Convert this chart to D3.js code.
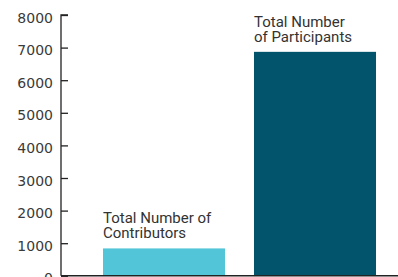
<!DOCTYPE html>
<html><head><meta charset="utf-8">
<script src="https://cdn.jsdelivr.net/npm/d3@7"></script>
<style>html,body{margin:0;padding:0;background:#fff;overflow:hidden}</style>
</head><body>
<script>
const categories = ["Contributors", "Participants"];
const values = [840, 6870];
const labels = [["Total Number of", "Contributors"], ["Total Number", "of Participants"]];
const colors = ["#52c6d8", "#01546c"];
const tickValues = [0, 1000, 2000, 3000, 4000, 5000, 6000, 7000, 8000];

const W = 398, H = 277;
const svg = d3.select("body").append("svg").attr("width", W).attr("height", H);

const y = d3.scaleLinear().domain([0, 8000]).range([275.8, 15]);
const x = d3.scaleBand().domain(categories).range([88.5, 390.5]).paddingInner(0.192).paddingOuter(0.096);

// bars
svg.selectAll("rect.bar").data(categories).enter().append("rect")
  .attr("class", "bar")
  .attr("x", d => x(d))
  .attr("width", x.bandwidth())
  .attr("y", (d, i) => y(values[i]))
  .attr("height", (d, i) => y(0) - y(values[i]))
  .attr("fill", (d, i) => colors[i]);

// y axis
const axisX = 61;
const yAxis = d3.axisRight(y).tickValues(tickValues).tickSize(7).tickFormat(d3.format("d"));
const g = svg.append("g").attr("transform", `translate(${axisX},0)`).call(yAxis);
g.attr("font-family", null).attr("font-size", null);
g.select(".domain").attr("stroke", "#222").attr("stroke-width", 1.3).attr("d", `M7,${y(8000)}H0V${y(0)}`);
g.selectAll(".tick line").attr("stroke", "#222").attr("stroke-width", 1.3);
g.selectAll(".tick text")
  .attr("x", -8).attr("text-anchor", "end").attr("dy", "0.5em")
  .attr("fill", "#3a3a3a").style("font-family", "'DejaVu Sans', sans-serif").style("font-size", "14px");

// baseline
svg.append("line").attr("x1", axisX).attr("x2", W).attr("y1", y(0)).attr("y2", y(0))
  .attr("stroke", "#222").attr("stroke-width", 1.6);

// labels
categories.forEach((c, i) => {
  const t = svg.append("text")
    .attr("x", x(c))
    .attr("y", y(values[i]) - 25)
    .attr("fill", "#333")
    .style("font-family", "Roboto, sans-serif")
    .style("font-size", "15px");
  labels[i].forEach((line, j) => {
    t.append("tspan").attr("x", x(c)).attr("dy", j === 0 ? 0 : 15).text(line);
  });
});
</script>
</body></html>
